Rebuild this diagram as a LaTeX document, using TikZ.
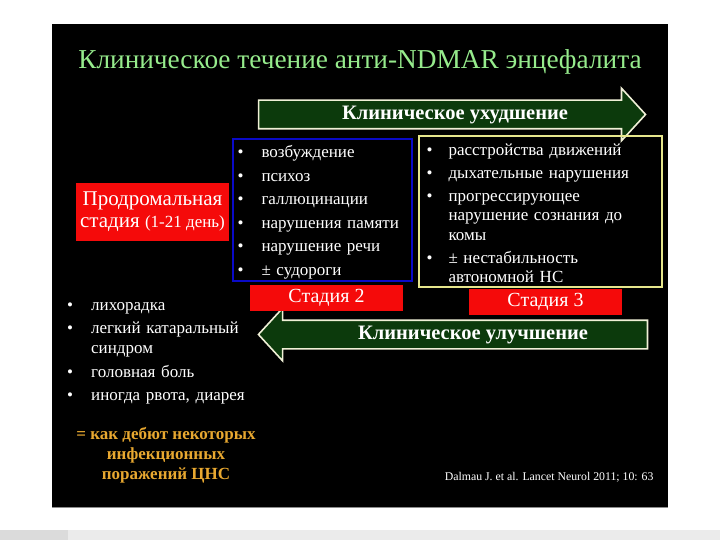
\documentclass[tikz,border=0pt]{standalone}
\usepackage{fontspec}
\setmainfont{Liberation Serif}
\usetikzlibrary{positioning, shapes.arrows}

\definecolor{slidegreen}{RGB}{150,235,140}
\definecolor{arrowfill}{RGB}{12,58,12}
\definecolor{arrowline}{RGB}{240,240,215}
\definecolor{stagered}{RGB}{245,10,10}
\definecolor{boxblue}{RGB}{10,10,200}
\definecolor{boxyellow}{RGB}{230,230,140}
\definecolor{noteorange}{RGB}{232,168,48}

\newenvironment{blist}[1][18pt]{%
  \begin{list}{\textbullet}{\setlength\leftmargin{24pt}\setlength\labelsep{#1}%
    \setlength\labelwidth{6pt}\setlength\itemsep{3.5pt}\setlength\parsep{0pt}%
    \setlength\topsep{0pt}\setlength\partopsep{0pt}}}%
  {\end{list}}

\begin{document}
\begin{tikzpicture}[x=1pt, y=-1pt,
            stagebox/.style={fill=stagered, text=white, inner sep=0pt,
                    align=center, font=\fontsize{20}{22}\selectfont},
            symbox/.style={draw, line width=1.4pt, inner sep=0pt},
            listtxt/.style={text=white, align=left, inner sep=0pt,
                    font=\fontsize{17}{20}\selectfont},
            trend/.style={single arrow, fill=arrowfill, draw=arrowline,
                    line width=1.6pt, text=white, single arrow head extend=12pt,
                    single arrow tip angle=95,
                    font=\bfseries\fontsize{20.5}{22}\selectfont,
                    text height=14pt, text depth=4pt, inner ysep=4.5pt, inner xsep=0pt}
        ]

        % ---------------------------------------------------------------
        % SLIDE
        % ---------------------------------------------------------------
        \useasboundingbox (0,0) rectangle (720,540);
        \fill[white] (0,0) rectangle (720,540);
        \fill[black!8] (0,530) rectangle (720,540);
        \fill[black!14] (0,530) rectangle (68,540);
        \fill[black] (52,24) rectangle (668,507);
        \draw[black!45, line width=0.6pt] (52,507) -- (668,507);

        % Title
        \node[text=slidegreen, font=\fontsize{27.3}{30}\selectfont] (title) at (360,62)
            {Клиническое течение анти-NDMAR энцефалита};

        % ---------------------------------------------------------------
        % ARROWS
        % ---------------------------------------------------------------
        \node[trend, minimum height=387pt] (worse) at (445.5,114.5)
            {\hspace{19pt}Клиническое ухудшение};
        \node[trend, shape border rotate=180, minimum height=389pt] (better) at (459.5,334.5)
            {\hspace{27pt}Клиническое улучшение};

        % ---------------------------------------------------------------
        % STAGES
        % ---------------------------------------------------------------
        % Prodromal stage
        \node[stagebox, minimum width=153pt, minimum height=58pt] (prodrom) at (152.5,212)
            {\fontsize{21}{23}\selectfont Продромальная\\
             \fontsize{21}{23}\selectfont стадия {\fontsize{17}{18}\selectfont (1-21 день)}};

        % Stage 2
        \node[symbox, draw=boxblue, minimum width=179pt, minimum height=142pt] (stageII) at (322.5,210) {};
        \node[listtxt, anchor=north west, text width=172pt] (stageIIlist)
            at ([xshift=5pt, yshift=0.5pt]stageII.north west)
            {\begin{blist}
               \item возбуждение
               \item психоз
               \item галлюцинации
               \item нарушения памяти
               \item нарушение речи
               \item ± судороги
             \end{blist}};
        \node[stagebox, minimum width=153pt, minimum height=26pt] (stageIIlabel) at (326.5,298) {Стадия 2};

        % Stage 3
        \node[symbox, draw=boxyellow, minimum width=243pt, minimum height=151pt] (stageIII) at (540.5,211.5) {};
        \node[listtxt, anchor=north west, text width=225pt, font=\fontsize{17}{19.5}\selectfont] (stageIIIlist)
            at ([xshift=6pt, yshift=-0.5pt]stageIII.north west)
            {\begin{blist}[16pt]
               \item расстройства движений
               \item дыхательные нарушения
               \item прогрессирующее\newline нарушение сознания до\newline комы
               \item ± нестабильность\newline автономной НС
             \end{blist}};
        \node[stagebox, minimum width=153pt, minimum height=26pt] (stageIIIlabel) at (545.5,302) {Стадия 3};

        % Prodromal symptoms
        \node[listtxt, anchor=north west, text width=180pt] (prodromlist) at (67,290)
            {\begin{blist}
               \item лихорадка
               \item легкий катаральный синдром
               \item головная боль
               \item иногда рвота, диарея
             \end{blist}};

        % Note
        \node[text=noteorange, align=center, font=\bfseries\fontsize{17}{20}\selectfont] (note)
            at (166,455) {= как дебют некоторых\\инфекционных\\поражений ЦНС};

        % Reference
        \node[text=white, anchor=east, font=\fontsize{11.8}{14}\selectfont] (ref)
            at (657,477) {Dalmau J. et al. Lancet Neurol 2011; 10: 63};

    \end{tikzpicture}
\end{document}
